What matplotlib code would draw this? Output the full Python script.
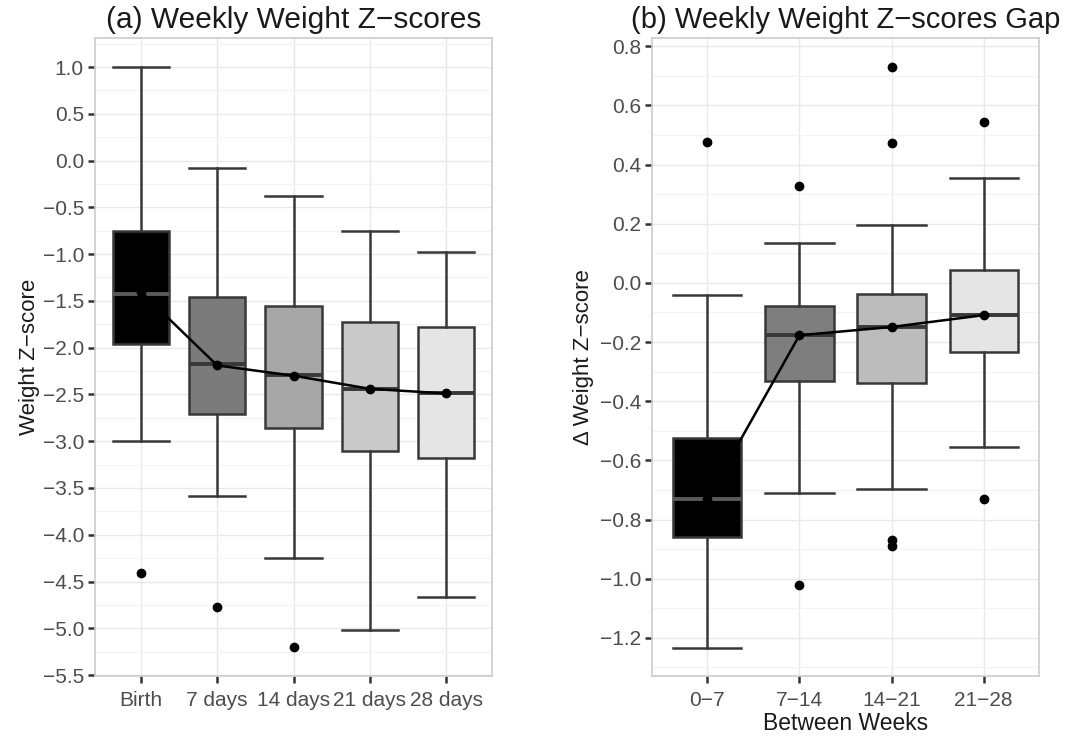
import matplotlib
matplotlib.use("Agg")
import matplotlib.pyplot as plt
import numpy as np

# ---- Panel (a) data ----
a_labels = ["Birth", "7 days", "14 days", "21 days", "28 days"]
a_whishi = [1.00, -0.08, -0.38, -0.75, -0.98]
a_q3 = [-0.75, -1.46, -1.55, -1.73, -1.78]
a_med = [-1.43, -2.18, -2.29, -2.44, -2.49]
a_q1 = [-1.96, -2.71, -2.86, -3.10, -3.18]
a_whislo = [-3.00, -3.59, -4.25, -5.02, -4.67]
a_mean = [-1.40, -2.19, -2.30, -2.44, -2.49]
a_fliers = [[-4.41], [-4.77], [-5.20], [], []]
a_colors = ["#000000", "#7b7b7b", "#a7a7a7", "#c9c9c9", "#e5e5e5"]
a_yticks = [1.0, 0.5, 0.0, -0.5, -1.0, -1.5, -2.0, -2.5, -3.0, -3.5, -4.0, -4.5, -5.0, -5.5]

# ---- Panel (b) data ----
b_labels = ["0\u22127", "7\u221214", "14\u221221", "21\u221228"]
b_whishi = [-0.04, 0.135, 0.195, 0.353]
b_q3 = [-0.525, -0.079, -0.038, 0.045]
b_med = [-0.732, -0.175, -0.149, -0.109]
b_q1 = [-0.86, -0.333, -0.34, -0.233]
b_whislo = [-1.234, -0.709, -0.696, -0.555]
b_mean = [-0.73, -0.177, -0.149, -0.109]
b_fliers = [[0.475], [0.328, -1.02], [0.731, 0.474, -0.868, -0.888], [0.545, -0.732]]
b_colors = ["#000000", "#7e7e7e", "#bcbcbc", "#e5e5e5"]
b_yticks = [0.8, 0.6, 0.4, 0.2, 0.0, -0.2, -0.4, -0.6, -0.8, -1.0, -1.2]

plt.rcParams['font.family'] = ['Liberation Sans', 'DejaVu Sans']

fig = plt.figure(figsize=(10.87, 7.43), dpi=100)
axA = fig.add_axes([95/1087, 1-676/743, (492-95)/1087, (676-38)/743])
axB = fig.add_axes([652/1087, 1-676/743, (1039-652)/1087, (676-38)/743])

edge = "#383838"
BW = 0.74

def panel(ax, labels, whishi, q3, med, q1, whislo, mean, fliers, colors, yticks, ylim, minor_step):
    n = len(labels)
    pos = np.arange(1, n + 1)
    stats = []
    for i in range(n):
        stats.append(dict(med=med[i], q1=q1[i], q3=q3[i], whislo=whislo[i],
                          whishi=whishi[i], fliers=np.array(fliers[i]), label=labels[i]))
    ax.set_facecolor("white")
    ax.set_axisbelow(True)
    bp = ax.bxp(stats, positions=pos, widths=BW, patch_artist=True,
                showcaps=True, showfliers=True,
                boxprops=dict(edgecolor=edge, linewidth=1.8),
                whiskerprops=dict(color=edge, linewidth=1.8),
                capprops=dict(color=edge, linewidth=1.8),
                medianprops=dict(color=edge, linewidth=2.8),
                flierprops=dict(marker='o', markerfacecolor='black', markeredgecolor='black',
                                markersize=6, linestyle='none'),
                zorder=3)
    for patch, c in zip(bp['boxes'], colors):
        patch.set_facecolor(c)
    for cap in bp['caps']:
        x = cap.get_xdata()
        c = (x[0] + x[1]) / 2
        cap.set_xdata([c - BW / 2, c + BW / 2])
    bp['medians'][0].set_color("#5a5a5a")
    ax.plot(pos, mean, color="black", linewidth=1.8, marker='o', markersize=6, zorder=5)
    ax.set_xticks(pos)
    ax.set_xticklabels(labels)
    ax.set_yticks(yticks)
    ax.set_yticklabels([("%.1f" % v).replace('-', '\u2212') for v in yticks])
    minor = np.arange(min(yticks) - minor_step / 2, max(yticks) + minor_step, minor_step)
    minor = minor[(minor > ylim[0]) & (minor < ylim[1])]
    ax.set_yticks(minor, minor=True)
    ax.set_xlim(0.4, n + 0.6)
    ax.set_ylim(*ylim)
    ax.grid(True, which='major', color="#e8e8e8", linewidth=1.0)
    ax.grid(True, which='minor', axis='y', color="#f3f3f3", linewidth=0.8)
    ax.tick_params(axis='both', which='major', colors="#333333", labelcolor="#4d4d4d",
                   labelsize=15, length=5, width=1.8, direction='out', pad=3)
    ax.tick_params(axis='both', which='minor', length=0)
    ax.tick_params(axis='x', pad=6)
    for s in ax.spines.values():
        s.set_color("#cccccc")
        s.set_linewidth(1.2)

panel(axA, a_labels, a_whishi, a_q3, a_med, a_q1, a_whislo, a_mean, a_fliers, a_colors,
      a_yticks, (-5.51, 1.31), 0.5)
panel(axB, b_labels, b_whishi, b_q3, b_med, b_q1, b_whislo, b_mean, b_fliers, b_colors,
      b_yticks, (-1.329, 0.828), 0.2)

axA.set_title("(a) Weekly Weight Z\u2212scores", fontsize=21.5, color="#1a1a1a", pad=7)
axB.set_title("(b) Weekly Weight Z\u2212scores Gap", fontsize=21, color="#1a1a1a", pad=7)
axA.set_ylabel("Weight Z\u2212score", fontsize=16, color="#1a1a1a", labelpad=2)
axB.set_ylabel("\u0394 Weight Z\u2212score", fontsize=16, color="#1a1a1a", labelpad=4)
axB.set_xlabel("Between Weeks", fontsize=16.5, color="#1a1a1a", labelpad=1)

fig.savefig("out.png", dpi=100, facecolor="white")
